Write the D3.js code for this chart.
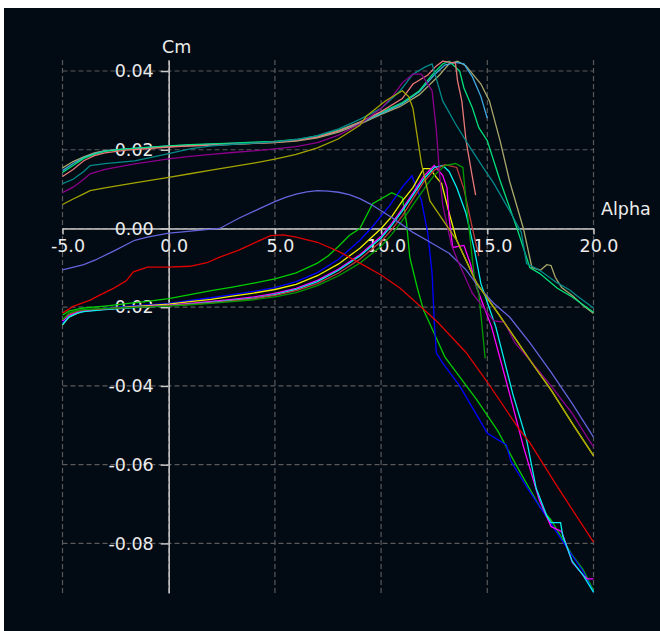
<!DOCTYPE html>
<html>
<head>
<meta charset="utf-8">
<script src="https://cdn.jsdelivr.net/npm/d3@7"></script>
<style>
  body { margin: 0; background: #ffffff; }
  svg { display: block; }
  text { font-family: "DejaVu Sans", sans-serif; }
</style>
</head>
<body>
<svg id="chart"></svg>
<script>
// Tick values
const alphaTicks = [-5, 0, 5, 10, 15, 20];
const cmTicks = [0.04, 0.02, 0.00, -0.02, -0.04, -0.06, -0.08];

// Polars, [alpha, Cm] pairs
const khaki = [[-5,0.0154],[-4.5,0.017],[-4,0.0182],[-3.5,0.0192],[-3,0.0198],[-2,0.0202],[-1,0.0205],[0,0.0208],[1,0.021],[2,0.0212],[3,0.0214],[4,0.0216],[5,0.0218],[6,0.0222],[7,0.023],[8,0.0245],[9,0.0265],[10,0.029],[10.9,0.031],[11.8,0.034],[12.75,0.039],[13.2,0.0418],[13.6,0.0425],[14,0.0413],[14.7,0.0367],[15.1,0.0324],[15.6,0.0223],[16.05,0.012],[16.7,0.0],[17.1,-0.0099],[17.5,-0.0106],[17.8,-0.0092],[18.0,-0.0094],[18.2,-0.0124],[18.5,-0.015],[19,-0.017],[19.5,-0.0195],[20,-0.0216]];
const lightBlue = [[-5,0.0147],[-4.5,0.0165],[-4,0.018],[-3.5,0.019],[-3,0.0197],[-2,0.0202],[-1,0.0206],[0,0.021],[1,0.0212],[2,0.0214],[3,0.0216],[4,0.0218],[5,0.022],[6,0.0225],[7,0.0233],[8,0.0248],[9,0.0268],[10,0.0292],[11,0.0317],[11.8,0.0347],[12.5,0.039],[13,0.0415],[13.5,0.0422],[13.9,0.0418],[14.3,0.0385],[14.7,0.0335],[15,0.028]];
const springGreen = [[-5,0.0142],[-4.5,0.016],[-4,0.0178],[-3.5,0.0188],[-3,0.0196],[-2,0.0202],[-1,0.0206],[0,0.021],[1,0.0213],[2,0.0215],[3,0.0217],[4,0.0219],[5,0.0221],[6,0.0226],[7,0.0235],[8,0.025],[9,0.027],[10,0.0295],[11,0.032],[11.8,0.035],[12.4,0.039],[12.9,0.0418],[13.2,0.0425],[13.7,0.040],[13.9,0.0357],[14.3,0.0306],[14.6,0.0256],[15,0.0223],[15.6,0.0122],[16.4,0.0],[17.0,-0.0099],[17.46,-0.0114],[18.3,-0.0152],[19,-0.0174],[20,-0.0213]];
const salmon = [[-5,0.0132],[-4.5,0.015],[-4,0.0172],[-3.5,0.0185],[-3,0.0192],[-2,0.0199],[-1,0.0203],[0,0.0207],[1,0.021],[2,0.0212],[3,0.0214],[4,0.0216],[5,0.0219],[6,0.0224],[7,0.0232],[8,0.0248],[9,0.027],[10,0.0297],[11,0.033],[11.5,0.0367],[12.2,0.039],[12.6,0.0413],[12.9,0.0425],[13.5,0.042],[13.6,0.0375],[13.8,0.0324],[14.0,0.0223],[14.27,0.0139],[14.45,0.0085]];
const teal = [[-5,0.0114],[-4.5,0.0125],[-4,0.0145],[-3.7,0.016],[-3,0.0165],[-1.6,0.0172],[0,0.019],[1,0.0202],[2,0.021],[3,0.0214],[4,0.0217],[5,0.022],[6,0.0226],[7,0.0236],[8,0.0253],[9,0.0277],[10,0.0305],[10.9,0.035],[11.5,0.0392],[12.06,0.041],[12.4,0.0418],[12.9,0.0324],[13.5,0.0266],[14.2,0.0205],[14.8,0.0155],[15.3,0.0115],[16.0,0.005],[16.6,-0.001],[16.85,-0.0089],[17.46,-0.0106],[18.26,-0.0137],[18.9,-0.0157],[19.2,-0.017],[20,-0.0202]];
const purple = [[-5,0.0091],[-4.5,0.0105],[-4,0.0125],[-3.7,0.0139],[-3,0.015],[-1.6,0.0164],[0,0.0177],[1,0.0183],[2,0.0188],[3,0.0193],[4,0.0197],[5,0.0202],[6,0.0208],[7,0.0218],[8,0.0237],[9,0.0265],[10,0.0305],[10.6,0.034],[11,0.037],[11.5,0.0392],[11.9,0.0392],[12.4,0.035],[12.6,0.025],[12.75,0.014],[12.9,0.006],[13.3,-0.004],[13.6,-0.0081],[14.3,-0.0165],[15.3,-0.0235],[15.8,-0.0238],[16.3,-0.029],[17,-0.0334],[18,-0.040],[19,-0.047],[19.7,-0.053],[20,-0.0555]];
const olive = [[-5,0.0061],[-4.5,0.0075],[-4,0.0088],[-3.7,0.0096],[-3,0.0103],[-1.6,0.0116],[0,0.013],[1,0.0139],[2,0.0148],[3,0.0157],[4,0.0166],[5,0.0176],[6,0.0188],[7,0.0205],[8,0.0228],[9,0.0262],[9.3,0.0285],[10.2,0.0324],[11,0.035],[11.3,0.0335],[11.5,0.0305],[11.9,0.0165],[12.3,0.007],[13.56,-0.003],[14.5,-0.0139],[15.5,-0.0215],[17,-0.0334],[18,-0.041],[19,-0.0495],[20,-0.0577]];
const slateBlue = [[-5,-0.0105],[-4,-0.0092],[-3.45,-0.008],[-2.5,-0.0055],[-1.6,-0.003],[-1,-0.0022],[0,-0.0012],[0.55,-0.0009],[1.5,-0.0004],[2.4,0.0],[3.3,0.0026],[4.3,0.0051],[5,0.0068],[5.5,0.0079],[6,0.0087],[6.5,0.0093],[7,0.0096],[7.5,0.0095],[8,0.0092],[8.5,0.0086],[9,0.0076],[9.5,0.0062],[10,0.0045],[10.5,0.0028],[10.9,0.0013],[11.5,-0.001],[12.15,-0.003],[13.2,-0.0063],[14,-0.0105],[14.6,-0.0149],[15.3,-0.019],[16.05,-0.0225],[17,-0.029],[18,-0.0365],[19,-0.0445],[20,-0.053]];
const red = [[-5,-0.0215],[-4.5,-0.0198],[-3.7,-0.0182],[-3.2,-0.0168],[-2.6,-0.0152],[-2,-0.0133],[-1.66,-0.011],[-1,-0.0098],[0,-0.0098],[1,-0.0096],[1.8,-0.0087],[2.4,-0.0073],[3.3,-0.0055],[4.3,-0.003],[4.8,-0.0018],[5.4,-0.0016],[6,-0.0022],[7,-0.0035],[8,-0.0058],[9,-0.0088],[10,-0.0118],[10.9,-0.0152],[12,-0.0205],[12.7,-0.024],[14,-0.0315],[15,-0.039],[16.5,-0.051],[17,-0.0544],[18.3,-0.0656],[19,-0.0714],[20,-0.0797]];
const green = [[-5,-0.022],[-4.7,-0.021],[-4.3,-0.0205],[-4,-0.0202],[-3,-0.0197],[-2,-0.0191],[-1,-0.0185],[0,-0.0178],[1,-0.0168],[2,-0.0158],[3,-0.0149],[4,-0.0139],[5,-0.0128],[6,-0.0113],[7,-0.0088],[7.5,-0.007],[8,-0.0045],[8.5,-0.0018],[9,0.0],[9.6,0.0063],[10.5,0.0091],[11,0.0078],[11.2,0.0013],[11.35,-0.0073],[11.7,-0.015],[12,-0.0208],[12.15,-0.0225],[13,-0.0326],[14.5,-0.0435],[15.5,-0.0515],[16.4,-0.0605],[17.46,-0.0706],[18,-0.074],[19,-0.083],[19.5,-0.0866],[20,-0.092]];
const blue = [[-5,-0.024],[-4.7,-0.0222],[-4.3,-0.0212],[-4,-0.0208],[-3,-0.0203],[-2,-0.0198],[-1,-0.0194],[0,-0.019],[1,-0.0183],[2,-0.0176],[3,-0.0168],[4,-0.016],[5,-0.015],[6,-0.0135],[7,-0.0112],[8,-0.0078],[9,-0.003],[9.6,0.0005],[10.4,0.0058],[11,0.0105],[11.45,0.0134],[11.9,0.0071],[12.2,-0.0013],[12.4,-0.0114],[12.5,-0.0233],[12.6,-0.0316],[12.9,-0.0342],[13.7,-0.040],[15,-0.052],[15.9,-0.055],[16.1,-0.059],[16.9,-0.066],[17.46,-0.0706],[18,-0.075],[18.8,-0.0815],[19.5,-0.087],[20,-0.0924]];
const yellow = [[-5,-0.0245],[-4.7,-0.0225],[-4.3,-0.0215],[-4,-0.021],[-3,-0.0205],[-2,-0.02],[-1,-0.0196],[0,-0.0192],[1,-0.0186],[2,-0.018],[3,-0.0172],[4,-0.0164],[5,-0.0155],[6,-0.0142],[7,-0.012],[8,-0.009],[9,-0.005],[10,0.0],[10.5,0.003],[11,0.007],[11.5,0.0104],[12,0.0152],[12.3,0.0152],[12.6,0.013],[12.85,0.0114],[13.2,0.004],[13.56,-0.003],[14.5,-0.0139],[15.5,-0.0215],[17,-0.0334],[18,-0.041],[19,-0.0495],[20,-0.0577]];
const magenta = [[-5,-0.0235],[-4.7,-0.022],[-4.3,-0.0213],[-4,-0.021],[-3,-0.0205],[-2,-0.0201],[-1,-0.0198],[0,-0.0195],[1,-0.019],[2,-0.0185],[3,-0.018],[4,-0.0174],[5,-0.0165],[6,-0.0152],[7,-0.0132],[8,-0.0103],[9,-0.0067],[10,-0.002],[10.5,0.0013],[11,0.005],[11.5,0.009],[12,0.0132],[12.5,0.016],[12.9,0.0135],[13.1,0.0104],[13.2,0.0028],[13.37,-0.0048],[13.9,-0.0043],[14.2,-0.0089],[14.5,-0.015],[15.2,-0.025],[16.05,-0.042],[16.7,-0.0554],[17.45,-0.069],[18,-0.0757],[18.5,-0.077],[19,-0.0848],[19.5,-0.088],[19.7,-0.089],[20,-0.089]];
const cyan = [[-5,-0.0245],[-4.7,-0.0225],[-4.3,-0.0215],[-4,-0.0211],[-3,-0.0206],[-2,-0.0202],[-1,-0.0199],[0,-0.0196],[1,-0.0192],[2,-0.0188],[3,-0.0183],[4,-0.0177],[5,-0.0168],[6,-0.0155],[7,-0.0135],[8,-0.0106],[9,-0.007],[10,-0.0024],[10.5,0.0008],[11,0.0045],[11.5,0.0085],[12,0.0125],[12.5,0.0155],[12.9,0.016],[13.2,0.0145],[13.56,0.0104],[14.0,0.0038],[14.4,-0.0056],[14.7,-0.014],[15.4,-0.025],[16.2,-0.042],[16.85,-0.0537],[17.3,-0.066],[17.8,-0.073],[18.0,-0.0747],[18.45,-0.0747],[18.55,-0.078],[19,-0.0846],[19.5,-0.088],[20,-0.0924]];
const brown = [[-5,-0.0232],[-4.7,-0.0218],[-4.3,-0.021],[-4,-0.0207],[-3,-0.0204],[-2,-0.0201],[-1,-0.0199],[0,-0.0196],[1,-0.0193],[2,-0.0189],[3,-0.0184],[4,-0.0178],[5,-0.017],[6,-0.0158],[7,-0.014],[8,-0.0113],[9,-0.0078],[10,-0.0033],[10.5,-0.0003],[11,0.0032],[11.5,0.0075],[12,0.0118],[12.5,0.0148],[13,0.0162],[13.56,0.0155],[13.9,0.010],[14.3,0.0],[14.6,-0.007]];
const darkGreen = [[-5,-0.0232],[-4.7,-0.0215],[-4.3,-0.0208],[-4,-0.0206],[-3,-0.0203],[-2,-0.0201],[-1,-0.0199],[0,-0.0197],[1,-0.0194],[2,-0.019],[3,-0.0186],[4,-0.0181],[5,-0.0174],[6,-0.0163],[7,-0.0145],[8,-0.012],[9,-0.0088],[10,-0.0045],[10.5,-0.0015],[11,0.002],[11.5,0.006],[12.2,0.0114],[12.5,0.0135],[13,0.016],[13.5,0.0165],[13.85,0.0155],[14,0.007],[14.2,-0.003],[14.4,-0.013],[14.6,-0.0165],[14.9,-0.033]];

// Drawing order: lower polars first, the upper ones on top
const polars = [green, blue, yellow, magenta, cyan, brown, darkGreen, slateBlue, red,
                khaki, lightBlue, springGreen, salmon, teal, purple, olive];
const polarColors = ["#00cc00", "#0000ff", "#f0f000", "#ff00ff", "#00f0f0", "#c03c3c", "#009a00", "#6464dc", "#e00000",
                     "#a8a86a", "#3fa9e0", "#00e07a", "#e87878", "#008a8a", "#8c008c", "#a4a400"];

// Dimensions
let width = 660;
let height = 631;

let svg = d3.select("#chart")
    .attr("width", width)
    .attr("height", height);

// Dark panel
svg.append("rect")
    .attr("x", 4)
    .attr("y", 8)
    .attr("width", width - 4)
    .attr("height", height - 8)
    .attr("fill", "#020a14");

// Scales
let xScale = d3.scaleLinear()
    .domain([-5, 20])
    .range([62.5, 593.5]);

let yScale = d3.scaleLinear()
    .domain([-0.0926, 0.0428])
    .range([593, 60]);

// Dashed grid
let grid = svg.append("g")
    .attr("stroke", "#5a5a5a")
    .attr("stroke-width", 1.2)
    .attr("stroke-dasharray", "5,3");

grid.selectAll(".vgrid")
    .data(alphaTicks)
    .enter().append("line")
    .attr("x1", d => xScale(d))
    .attr("x2", d => xScale(d))
    .attr("y1", yScale.range()[1])
    .attr("y2", yScale.range()[0]);

grid.selectAll(".hgrid")
    .data(cmTicks)
    .enter().append("line")
    .attr("x1", xScale.range()[0])
    .attr("x2", xScale.range()[1])
    .attr("y1", d => yScale(d))
    .attr("y2", d => yScale(d));

// Axes through the origin
let xAxis = svg.append("g")
    .attr("transform", `translate(0, ${yScale(0)})`)
    .call(d3.axisBottom(xScale)
        .tickValues(alphaTicks)
        .tickSize(6)
        .tickSizeOuter(0)
        .tickPadding(5)
        .tickFormat(d => d.toFixed(1)));

let yAxis = svg.append("g")
    .attr("transform", `translate(${xScale(0)}, 0)`)
    .call(d3.axisLeft(yScale)
        .tickValues(cmTicks)
        .tickSize(8)
        .tickSizeOuter(0)
        .tickPadding(7)
        .tickFormat(d => d.toFixed(2)));

svg.selectAll(".domain, .tick line")
    .attr("stroke", "#c8c8c8")
    .attr("stroke-width", 1.5);

xAxis.selectAll("text").attr("dx", 5);

svg.selectAll(".tick text")
    .attr("fill", "#ececec")
    .style("font-size", "17.5px")
    .style("font-family", "'DejaVu Sans', sans-serif");

// Axis titles
svg.append("text")
    .attr("x", 162)
    .attr("y", 53)
    .attr("fill", "#ececec")
    .style("font-size", "17.5px")
    .text("Cm");

svg.append("text")
    .attr("x", 601)
    .attr("y", 215)
    .attr("fill", "#ececec")
    .style("font-size", "17.5px")
    .text("Alpha");

// Draw the polars
let line = d3.line()
    .x(d => xScale(d[0]))
    .y(d => yScale(d[1]));

svg.selectAll(".polar")
    .data(polars)
    .enter().append("path")
    .attr("class", "polar")
    .attr("d", line)
    .attr("fill", "none")
    .attr("stroke", (d, i) => polarColors[i])
    .attr("stroke-width", 1.3);
</script>
</body>
</html>
